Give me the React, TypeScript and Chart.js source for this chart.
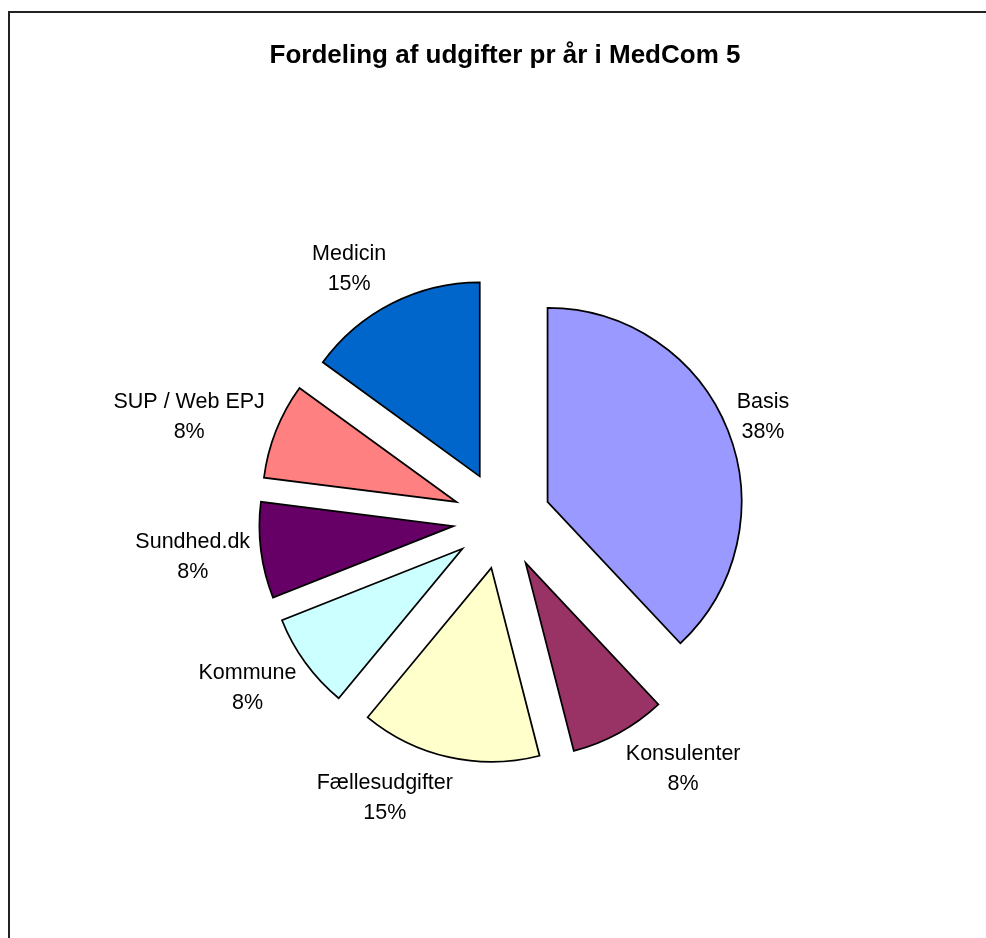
import React, { useEffect, useRef } from 'react';
import { Chart, ArcElement, PieController, registerables } from 'chart.js';

Chart.register(...registerables);

const TITLE = 'Fordeling af udgifter pr år i MedCom 5';
const categories = ['Basis', 'Konsulenter', 'Fællesudgifter', 'Kommune', 'Sundhed.dk', 'SUP / Web EPJ', 'Medicin'];
const values = [38, 8, 15, 8, 8, 8, 15];
const sliceColors = ['#9999FF', '#993366', '#FFFFCC', '#CCFFFF', '#660066', '#FF8080', '#0066CC'];

const EXPLODE = 49;
const PIE_RADIUS = 194;
const LABEL_GAP = 8;
const FONT_FAMILY = '"Liberation Sans", Arial, Helvetica, sans-serif';

class ExplodedArc extends ArcElement {
  static id = 'explodedArc';
  draw(ctx: CanvasRenderingContext2D) {
    const self: any = this;
    const mid = (self.startAngle + self.endAngle) / 2;
    ctx.save();
    ctx.translate(Math.cos(mid) * EXPLODE, Math.sin(mid) * EXPLODE);
    super.draw(ctx);
    ctx.restore();
  }
}

class ExplodedPieController extends PieController {
  static id = 'explodedPie';
  static defaults = { ...(PieController as any).defaults, dataElementType: 'explodedArc' };
}

Chart.register(ExplodedArc as any, ExplodedPieController as any);

const sliceLabels = {
  id: 'sliceLabels',
  afterDatasetsDraw(chart: any) {
    const ctx: CanvasRenderingContext2D = chart.ctx;
    const meta = chart.getDatasetMeta(0);
    const total = values.reduce((a, b) => a + b, 0);
    ctx.save();
    ctx.font = `21.5px ${FONT_FAMILY}`;
    ctx.fillStyle = '#000';
    ctx.textAlign = 'center';
    ctx.textBaseline = 'alphabetic';
    meta.data.forEach((arc: any, i: number) => {
      const { x, y, startAngle, endAngle, outerRadius } = arc.getProps(
        ['x', 'y', 'startAngle', 'endAngle', 'outerRadius'],
        true
      );
      const mid = (startAngle + endAngle) / 2;
      const dx = Math.cos(mid);
      const dy = Math.sin(mid);
      const dist = EXPLODE + outerRadius + LABEL_GAP;
      const ax = x + dx * dist;
      const ay = y + dy * dist;
      const pct = Math.round((values[i] / total) * 100) + '%';
      const lines = [categories[i], pct];
      const w = Math.max(...lines.map((l) => ctx.measureText(l).width));
      const cx = ax + 0.525 * w * Math.max(-1, Math.min(1, 4 * dx));
      const cy = ay + 32 * dy;
      ctx.fillText(lines[0], cx, cy - 7.5);
      ctx.fillText(lines[1], cx, cy + 22.5);
    });
    ctx.restore();
  },
  afterDraw(chart: any) {
    const ctx: CanvasRenderingContext2D = chart.ctx;
    ctx.save();
    ctx.font = `bold 26px ${FONT_FAMILY}`;
    ctx.fillStyle = '#000';
    ctx.textAlign = 'center';
    ctx.textBaseline = 'alphabetic';
    ctx.fillText(TITLE, 505, 63);
    ctx.restore();
  },
};

export default function App() {
  const canvasRef = useRef<HTMLCanvasElement | null>(null);

  useEffect(() => {
    if (!canvasRef.current) return;
    const chart = new Chart(canvasRef.current, {
      type: 'explodedPie' as any,
      data: {
        labels: categories,
        datasets: [
          {
            data: values,
            backgroundColor: sliceColors,
            borderColor: '#000',
            borderWidth: 1.75,
            borderJoinStyle: 'miter',
            borderAlign: 'center',
            radius: PIE_RADIUS,
          } as any,
        ],
      },
      options: {
        animation: false,
        responsive: true,
        maintainAspectRatio: false,
        events: [],
        layout: { padding: { left: 18, right: 0, top: 102, bottom: 0 } },
        plugins: {
          legend: { display: false },
          tooltip: { enabled: false },
          title: { display: false },
        },
      } as any,
      plugins: [sliceLabels],
    });
    return () => chart.destroy();
  }, []);

  return (
    <>
      <div
        style={{
          position: 'absolute',
          left: 8,
          top: 11,
          width: 978,
          height: 927,
          boxSizing: 'border-box',
          borderTop: '2px solid #222',
          borderLeft: '2px solid #222',
        }}
      />
      <div style={{ position: 'absolute', left: 0, top: 0, width: 986, height: 938 }}>
        <canvas ref={canvasRef} />
      </div>
    </>
  );
}
